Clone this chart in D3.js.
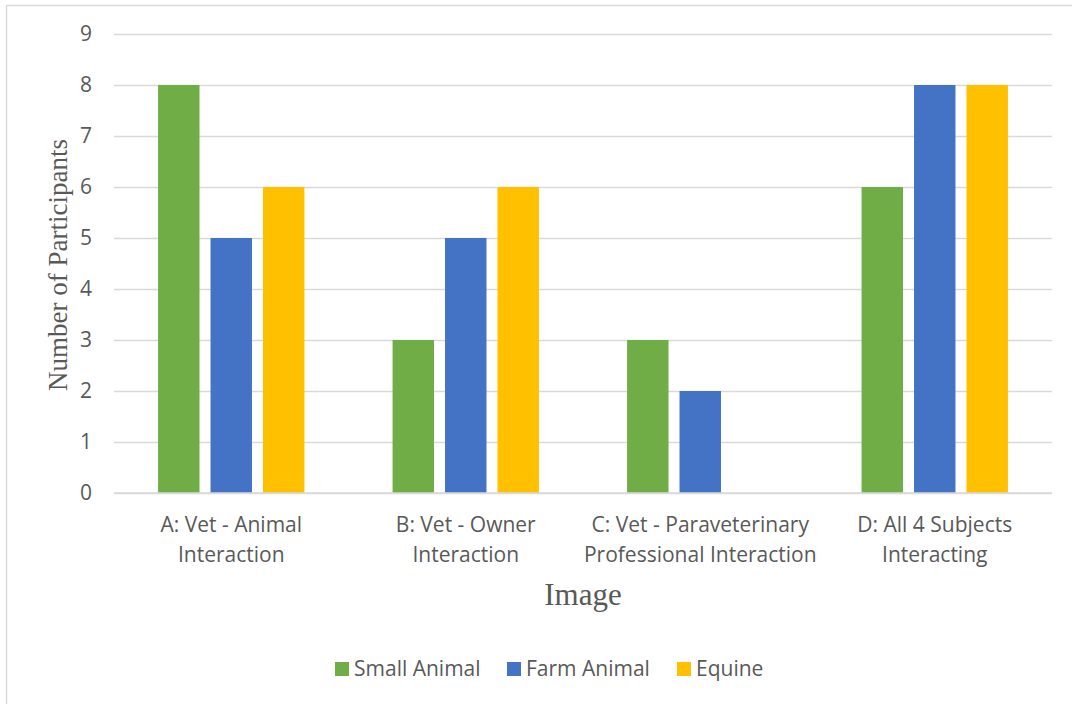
<!DOCTYPE html>
<html>
<head>
<meta charset="utf-8">
<script src="https://cdn.jsdelivr.net/npm/d3@7"></script>
<style>
  html, body { margin: 0; padding: 0; background: #fff; }
  svg { display: block; }
</style>
</head>
<body>
<div id="chart"></div>
<script>
const categories = [
  'A: Vet - Animal|Interaction',
  'B: Vet - Owner|Interaction',
  'C: Vet - Paraveterinary|Professional Interaction',
  'D: All 4 Subjects|Interacting'
]
const seriesNames = ['Small Animal', 'Farm Animal', 'Equine']
const smallAnimal = [8, 3, 3, 6]
const farmAnimal = [5, 5, 2, 8]
const equine = [6, 6, 0, 8]
const yTicks = [0, 1, 2, 3, 4, 5, 6, 7, 8, 9]

const colors = ['#70ad47', '#4472c4', '#ffc000']
const values = [smallAnimal, farmAnimal, equine]

const width = 1072
const height = 704
const plot = {left: 114, right: 1052, top: 34, bottom: 493}
const SANS = '"Open Sans", "Noto Sans", sans-serif'
const SERIF = '"Liberation Serif", "DejaVu Serif", serif'
const GREY = '#595959'
const FONT_SIZE = 21

const svg = d3.select('#chart').append('svg')
  .attr('width', width).attr('height', height)

// chart frame (only left/top edges are inside the picture)
svg.append('rect')
  .attr('x', 6.5).attr('y', 5.5).attr('width', width + 10).attr('height', height + 10)
  .attr('fill', '#fff').attr('stroke', '#d9d9d9').attr('stroke-width', 1.5)

const x = d3.scaleBand().domain(categories).range([plot.left, plot.right])
const xInner = d3.scaleBand().domain(seriesNames).range([0, x.bandwidth()])
  .paddingInner(0.21).paddingOuter(0.84)
const y = d3.scaleLinear().domain([0, 9]).range([plot.bottom, plot.top])

// gridlines + y labels
const yAxis = d3.axisLeft(y).tickValues(yTicks).tickSize(-(plot.right - plot.left)).tickPadding(22)
svg.append('g')
  .attr('transform', `translate(${plot.left},0)`)
  .call(yAxis)
  .call(g => {
    g.select('.domain').remove()
    g.selectAll('line').attr('stroke', '#d9d9d9').attr('stroke-width', 1.3)
    g.selectAll('text').attr('fill', GREY).attr('font-family', SANS).attr('font-size', FONT_SIZE)
  })

// bars
svg.selectAll('g.series')
  .data(seriesNames)
  .enter()
  .append('g')
  .classed('series', true)
  .attr('fill', (d, i) => colors[i])
  .selectAll('rect')
  .data((s, si) => categories.map((c, ci) => ({c, s, v: values[si][ci]})))
  .enter()
  .append('rect')
  .attr('x', d => x(d.c) + xInner(d.s))
  .attr('y', d => y(d.v))
  .attr('width', xInner.bandwidth())
  .attr('height', d => y(0) - y(d.v))

// x axis line
svg.append('line')
  .attr('x1', plot.left).attr('x2', plot.right).attr('y1', y(0)).attr('y2', y(0))
  .attr('stroke', '#d9d9d9').attr('stroke-width', 1.3)

// category labels
svg.selectAll('text.cat')
  .data(categories)
  .enter()
  .append('text')
  .classed('cat', true)
  .attr('text-anchor', 'middle')
  .attr('fill', GREY).attr('font-family', SANS).attr('font-size', FONT_SIZE)
  .each(function (d) {
    const cx = x(d) + x.bandwidth() / 2
    d.split('|').forEach((line, i) => {
      d3.select(this).append('tspan').attr('x', cx).attr('y', 532 + i * 30).text(line)
    })
  })

// axis titles
svg.append('text')
  .attr('x', 583).attr('y', 605).attr('text-anchor', 'middle')
  .attr('fill', GREY).attr('font-family', SERIF).attr('font-size', 31)
  .text('Image')

svg.append('text')
  .attr('transform', 'translate(67,265) rotate(-90)').attr('text-anchor', 'middle')
  .attr('fill', GREY).attr('font-family', SERIF).attr('font-size', 27)
  .text('Number of Participants')

// legend
const legendX = [335, 507, 677]
const legend = svg.selectAll('g.legend')
  .data(seriesNames)
  .enter()
  .append('g')
  .classed('legend', true)
  .attr('transform', (d, i) => `translate(${legendX[i]}, 662)`)
legend.append('rect').attr('width', 14).attr('height', 14).attr('fill', (d, i) => colors[i])
legend.append('text')
  .attr('x', 19).attr('y', 14)
  .attr('fill', GREY).attr('font-family', SANS).attr('font-size', FONT_SIZE)
  .text(d => d)
</script>
</body>
</html>
